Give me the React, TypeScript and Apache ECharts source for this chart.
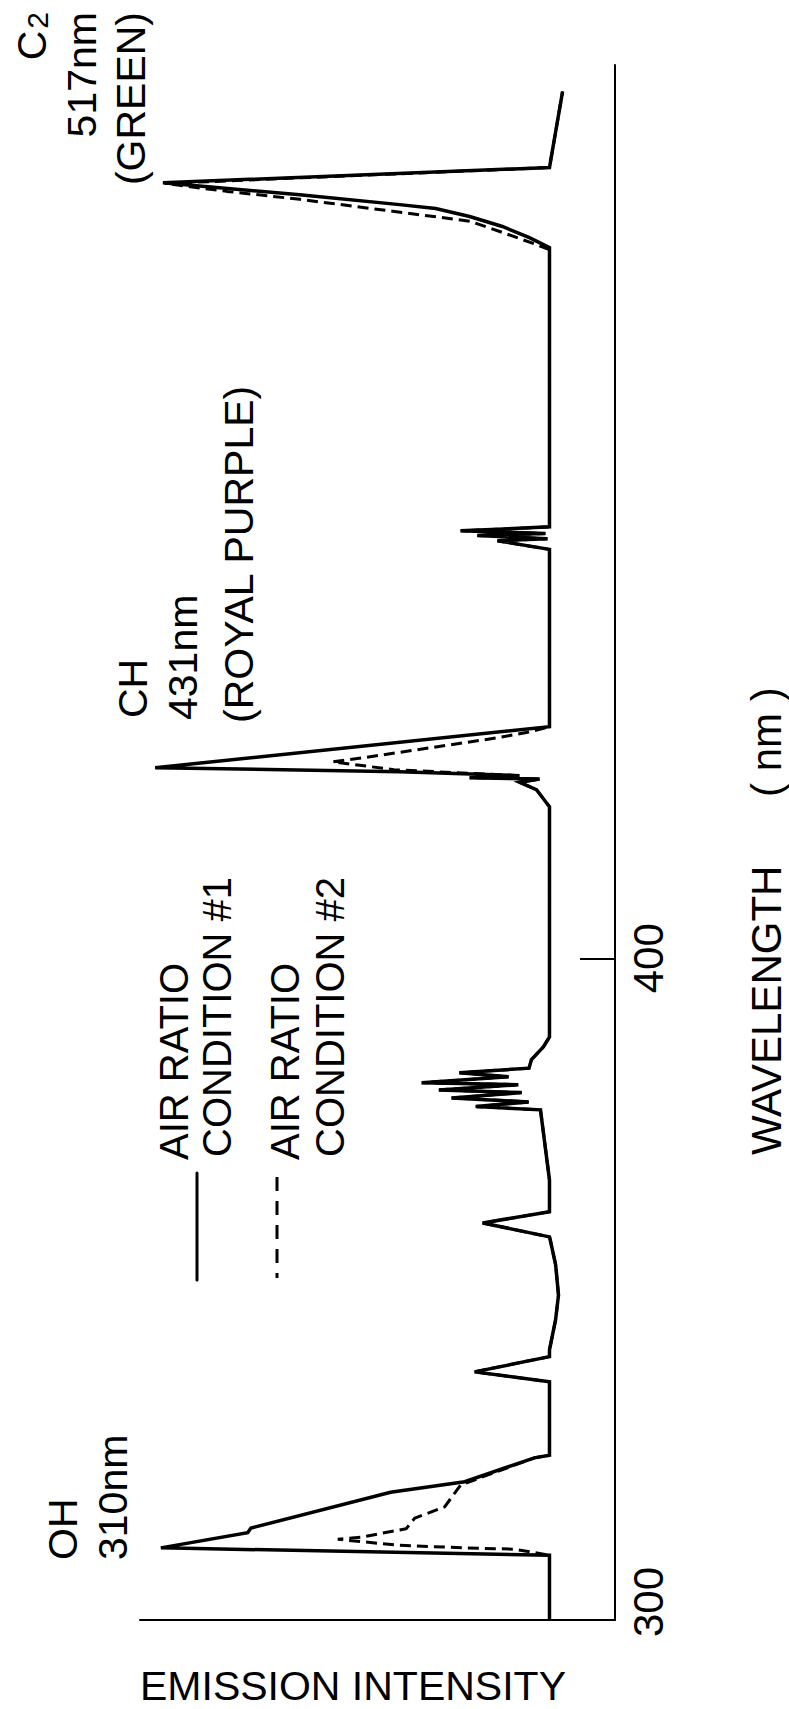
import React, { useEffect, useRef } from "react";
import * as echarts from "echarts";

// Wavelength axis (nm)
const wavelengthLabels = [300, 400, 500];
const wavelengthTicks = [400, 500];

// [emission intensity (arb.), wavelength (nm)] — air ratio condition #1 (solid)
const condition1: [number, number][] = [
  [0, 300.0], [0, 309.8], [94.9, 310.9], [73.7, 313.2], [72.9, 313.9], [38.8, 319.3],
  [20.7, 320.9], [3.7, 324.5], [0, 324.9], [0, 336.0], [18.3, 337.5], [0, 339.8],
  [0, 340.8], [-1.5, 345.4], [-2.2, 349.1], [-1.5, 353.7], [-0.2, 357.4], [0, 357.9],
  [16.3, 360.0], [0, 361.7], [0, 366.5], [2.2, 377.1], [18, 377.6], [5.1, 378.3],
  [23.9, 378.9], [6.8, 379.7], [27, 380.1], [7.6, 380.9], [31.2, 381.2], [10, 382.1],
  [22, 382.7], [5, 383.4], [4.4, 384.7], [1.5, 386.6], [0, 388.1], [0, 422.9],
  [3.2, 425.5], [7.3, 426.6], [2.4, 427.1], [19.5, 427.3], [7.3, 427.6], [36.6, 428.2],
  [96.3, 428.8], [0, 435.0], [0, 461.8], [12.7, 463.1], [0.5, 463.4], [17.6, 463.9],
  [1, 464.2], [21.7, 464.6], [0, 465.2], [0, 507.4], [4.9, 508.9], [11.5, 510.6],
  [19.5, 512.1], [27.8, 513.3], [36.6, 513.9], [61, 515.4], [94.4, 517.2], [0, 519.5],
  [-3.2, 531.0],
];

// air ratio condition #2 (dashed)
const condition2: [number, number][] = [
  [0, 300.0], [0, 309.8], [8.5, 310.7], [20.7, 310.9], [37, 311.3], [51.7, 312.2],
  [46.1, 312.5], [35, 313.8], [32.9, 315.4], [25.6, 317.1], [21.7, 320.4], [3.7, 324.5],
  [0, 324.9], [0, 336.0], [18.3, 337.5], [0, 339.8], [0, 340.8], [-1.5, 345.4],
  [-2.2, 349.1], [-1.5, 353.7], [-0.2, 357.4], [0, 357.9], [16.3, 360.0], [0, 361.7],
  [0, 366.5], [2.2, 377.1], [18, 377.6], [5.1, 378.3], [23.9, 378.9], [6.8, 379.7],
  [27, 380.1], [7.6, 380.9], [31.2, 381.2], [10, 382.1], [22, 382.7], [5, 383.4],
  [4.4, 384.7], [1.5, 386.6], [0, 388.1], [0, 422.9], [3.2, 425.5], [7.3, 426.6],
  [2.4, 427.1], [19.5, 427.3], [7.3, 427.6], [38, 428.5], [52.9, 429.7], [45.6, 430.3],
  [12.9, 433.3], [4.9, 434.2], [0, 435.0], [0, 461.8], [12.7, 463.1], [0.5, 463.4],
  [17.6, 463.9], [1, 464.2], [21.7, 464.6], [0, 465.2], [0, 507.1], [3.4, 507.9],
  [11.5, 509.7], [19.5, 511.4], [38.3, 512.9], [61, 514.7], [78.8, 515.9], [93.9, 517.1],
  [0, 519.5], [-3.2, 531.0],
];

const legendNames = ["AIR RATIO\nCONDITION #1", "AIR RATIO\nCONDITION #2"];

export default function App() {
  const ref = useRef<HTMLDivElement>(null);
  useEffect(() => {
    document.body.style.margin = "0";
    const chart = echarts.init(ref.current!, null, { renderer: "svg" });
    const font = "'Liberation Sans', Arial, Helvetica, sans-serif";
    const rotText = (text: string, x: number, y: number, size: number, align = "left", rich?: any) => ({
      type: "text",
      x,
      y,
      rotation: Math.PI / 2,
      style: {
        text,
        fontFamily: font,
        fontSize: size,
        fill: "#000",
        textAlign: align,
        textVerticalAlign: "middle",
        verticalAlign: "middle",
        rich,
      },
    });
    const [l1a, l1b] = legendNames[0].split("\n");
    const [l2a, l2b] = legendNames[1].split("\n");
    chart.setOption({
      animation: false,
      backgroundColor: "#fff",
      grid: { left: 140, right: 174, top: 65, bottom: 89, containLabel: false, outerBoundsMode: "none" },
      xAxis: {
        type: "value",
        inverse: true,
        min: -16,
        max: 100,
        position: "bottom",
        axisLine: { show: true, onZero: false, lineStyle: { color: "#000", width: 2 } },
        axisTick: { show: false },
        axisLabel: { show: false },
        splitLine: { show: false },
      },
      yAxis: {
        type: "value",
        position: "right",
        min: 300,
        max: 535,
        interval: 100,
        axisLine: { show: true, onZero: false, lineStyle: { color: "#000", width: 2 } },
        axisTick: {
          show: true,
          inside: true,
          length: 35,
          customValues: wavelengthTicks,
          lineStyle: { color: "#000", width: 2 },
        },
        axisLabel: {
          show: true,
          customValues: wavelengthLabels,
          rotate: 90,
          margin: 12,
          color: "#000",
          fontFamily: font,
          fontSize: 42,
          showMaxLabel: false,
          formatter: (v: number) => (v === 300 ? `{lo|${v}}` : `${v}`),
          rich: {
            lo: { fontFamily: font, fontSize: 42, color: "#000", padding: [0, 0, 0, 36] },
          },
        },
        splitLine: { show: false },
      },
      series: [
        {
          name: legendNames[0],
          type: "line",
          data: condition1,
          symbol: "none",
          lineStyle: { color: "#000", width: 3.5, join: "miter" },
          z: 3,
        },
        {
          name: legendNames[1],
          type: "line",
          data: condition2,
          symbol: "none",
          lineStyle: { color: "#000", width: 3, type: [11, 6] },
          z: 4,
        },
      ],
      graphic: [
        {
          type: "text",
          x: 140,
          y: 1686,
          style: {
            text: "EMISSION INTENSITY",
            fontFamily: font,
            fontSize: 41,
            fill: "#000",
            textAlign: "left",
            textVerticalAlign: "middle",
            verticalAlign: "middle",
          },
        },
        rotText("WAVELENGTH", 766, 1155, 42),
        rotText("( nm )", 766, 797, 42),
        // legend
        { type: "line", shape: { x1: 197, y1: 1173, x2: 197, y2: 1280 }, style: { stroke: "#000", lineWidth: 3, lineCap: "round" } },
        { type: "line", shape: { x1: 277, y1: 1177, x2: 277, y2: 1278 }, style: { stroke: "#000", lineWidth: 3, lineDash: [14, 10] } },
        rotText(l1a, 174, 1160, 40),
        rotText(l1b, 217, 1157, 40),
        rotText(l2a, 285, 1160, 40),
        rotText(l2b, 330, 1157, 40),
        // peak annotations
        rotText("OH", 63, 1560, 41),
        rotText("310nm", 113, 1560, 41),
        rotText("CH", 133, 718, 41),
        rotText("431nm", 183, 720, 41),
        rotText("(ROYAL PURPLE)", 239, 723, 41),
        rotText("{c|C}{s|2}", 32, 12, 41, "right", {
          c: { fontFamily: font, fontSize: 41, color: "#000", verticalAlign: "bottom" },
          s: { fontFamily: font, fontSize: 30, color: "#000", verticalAlign: "bottom", padding: [0, 0, 0, 2] },
        }),
        rotText("517nm", 82, 12, 41, "right"),
        rotText("(GREEN)", 131, 12, 41, "right"),
      ],
    });
    return () => chart.dispose();
  }, []);
  return <div ref={ref} style={{ width: 789, height: 1709 }} />;
}
